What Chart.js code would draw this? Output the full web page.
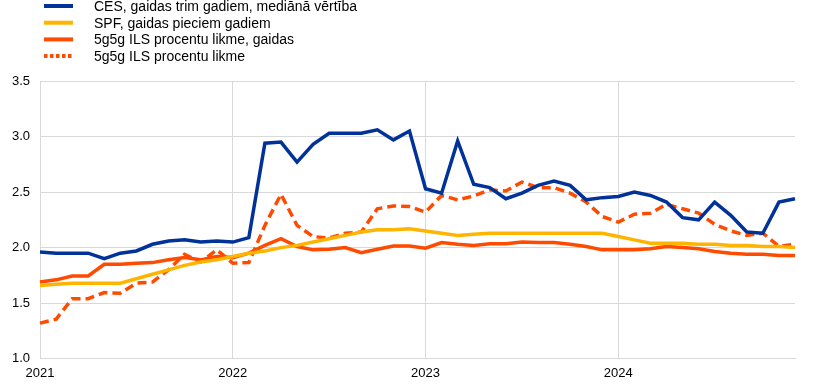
<!DOCTYPE html>
<html>
<head>
<meta charset="utf-8">
<script src="https://cdn.jsdelivr.net/npm/chart.js@4/dist/chart.umd.min.js"></script>
<style>
  html, body { margin: 0; padding: 0; background: #fff; }
  #wrap { width: 821px; height: 384px; position: relative; }
</style>
</head>
<body>
<div id="wrap"><canvas id="chart"></canvas></div>
<script>
// === DATA ===
const months = [
  '2021-01','2021-02','2021-03','2021-04','2021-05','2021-06','2021-07','2021-08','2021-09','2021-10','2021-11','2021-12',
  '2022-01','2022-02','2022-03','2022-04','2022-05','2022-06','2022-07','2022-08','2022-09','2022-10','2022-11','2022-12',
  '2023-01','2023-02','2023-03','2023-04','2023-05','2023-06','2023-07','2023-08','2023-09','2023-10','2023-11','2023-12',
  '2024-01','2024-02','2024-03','2024-04','2024-05','2024-06','2024-07','2024-08','2024-09','2024-10','2024-11','2024-12'
];
const seriesNames = [
  'CES, gaidas trim gadiem, mediānā vērtība',
  'SPF, gaidas pieciem gadiem',
  '5g5g ILS procentu likme, gaidas',
  '5g5g ILS procentu likme'
];
const cesValues = [1.96,1.95,1.95,1.95,1.90,1.95,1.97,2.03,2.06,2.07,2.05,2.06,
  2.05,2.09,2.94,2.95,2.77,2.93,3.03,3.03,3.03,3.06,2.97,3.05,
  2.53,2.49,2.96,2.57,2.54,2.44,2.49,2.56,2.60,2.56,2.43,2.45,
  2.46,2.50,2.47,2.41,2.27,2.25,2.41,2.29,2.14,2.13,2.41,2.44];
const spfValues = [1.66,1.67,1.68,1.68,1.68,1.68,1.72,1.76,1.80,1.84,1.87,1.89,
  1.92,1.95,1.97,2.00,2.02,2.05,2.08,2.11,2.14,2.16,2.16,2.17,
  2.15,2.13,2.11,2.12,2.13,2.13,2.13,2.13,2.13,2.13,2.13,2.13,
  2.10,2.07,2.04,2.04,2.04,2.03,2.03,2.02,2.02,2.01,2.01,2.00];
const ilsExpValues = [1.69,1.71,1.745,1.745,1.85,1.85,1.86,1.865,1.89,1.91,1.89,1.92,
  1.91,1.95,2.02,2.08,2.01,1.98,1.985,2.00,1.955,1.985,2.015,2.015,
  1.995,2.045,2.03,2.02,2.035,2.035,2.05,2.045,2.045,2.03,2.01,1.98,
  1.98,1.98,1.99,2.01,2.00,1.99,1.965,1.95,1.94,1.94,1.93,1.93];
const ilsRateValues = [1.32,1.355,1.54,1.54,1.595,1.59,1.68,1.69,1.80,1.94,1.87,1.98,
  1.86,1.865,2.20,2.48,2.20,2.10,2.085,2.13,2.14,2.35,2.375,2.37,
  2.32,2.47,2.43,2.465,2.52,2.51,2.59,2.54,2.54,2.49,2.41,2.28,
  2.23,2.30,2.31,2.39,2.35,2.31,2.21,2.15,2.11,2.13,2.01,2.03];
const yTicks = [1.0, 1.5, 2.0, 2.5, 3.0, 3.5];

const BLUE = '#003299', YELLOW = '#ffb400', ORANGE = '#ff4b00';
const GRID = '#d9d9d9';
const FONT = "Arial, 'Liberation Sans', sans-serif";

// legend drawn by hand: one entry per row, top-left
const legendPlugin = {
  id: 'rowLegend',
  afterDraw(chart) {
    const ctx = chart.ctx;
    ctx.save();
    chart.data.datasets.forEach((ds, i) => {
      const y = 6 + i * 16.7;
      ctx.strokeStyle = ds.borderColor;
      ctx.lineWidth = 4;
      ctx.setLineDash(ds.borderDash && ds.borderDash.length ? [3.5, 2.5] : []);
      ctx.beginPath();
      ctx.moveTo(44, y);
      ctx.lineTo(73, y);
      ctx.stroke();
      ctx.setLineDash([]);
      ctx.fillStyle = '#000';
      ctx.font = '14px ' + FONT;
      ctx.textBaseline = 'middle';
      ctx.fillText(ds.label, 94, y + 1);
    });
    ctx.restore();
  }
};

const isJan = (i) => months[i] && months[i].endsWith('-01');

new Chart(document.getElementById('chart'), {
  type: 'line',
  data: {
    labels: months,
    datasets: [
      { label: seriesNames[0], data: cesValues, borderColor: BLUE, borderWidth: 3.5 },
      { label: seriesNames[1], data: spfValues, borderColor: YELLOW, borderWidth: 3.5 },
      { label: seriesNames[2], data: ilsExpValues, borderColor: ORANGE, borderWidth: 3.5 },
      { label: seriesNames[3], data: ilsRateValues, borderColor: ORANGE, borderWidth: 3.5, borderDash: [9, 5] }
    ]
  },
  options: {
    responsive: true,
    maintainAspectRatio: false,
    animation: false,
    elements: { point: { radius: 0 }, line: { tension: 0, fill: false } },
    layout: { padding: { top: 81, right: 26, bottom: 0, left: 0 } },
    plugins: { legend: { display: false }, tooltip: { enabled: false } },
    scales: {
      x: {
        type: 'category',
        offset: false,
        border: { color: GRID },
        grid: {
          drawTicks: false,
          color: (c) => (c.tick && isJan(c.index)) ? GRID : 'rgba(0,0,0,0)'
        },
        ticks: {
          autoSkip: false,
          maxRotation: 0,
          padding: 7,
          color: '#000',
          font: { family: FONT, size: 13 },
          callback: (v, i) => isJan(i) ? months[i].slice(0, 4) : ''
        },
        afterFit: (s) => { s.height = 25.3; }
      },
      y: {
        min: 1.0,
        max: 3.5,
        border: { color: GRID },
        grid: { drawTicks: false, color: GRID },
        afterBuildTicks: (s) => { s.ticks = yTicks.map(v => ({ value: v })); },
        ticks: {
          padding: 10,
          color: '#000',
          font: { family: FONT, size: 13 },
          callback: (v) => Number(v).toFixed(1)
        },
        afterFit: (s) => { s.width = 40; }
      }
    }
  },
  plugins: [legendPlugin]
});
</script>
</body>
</html>
